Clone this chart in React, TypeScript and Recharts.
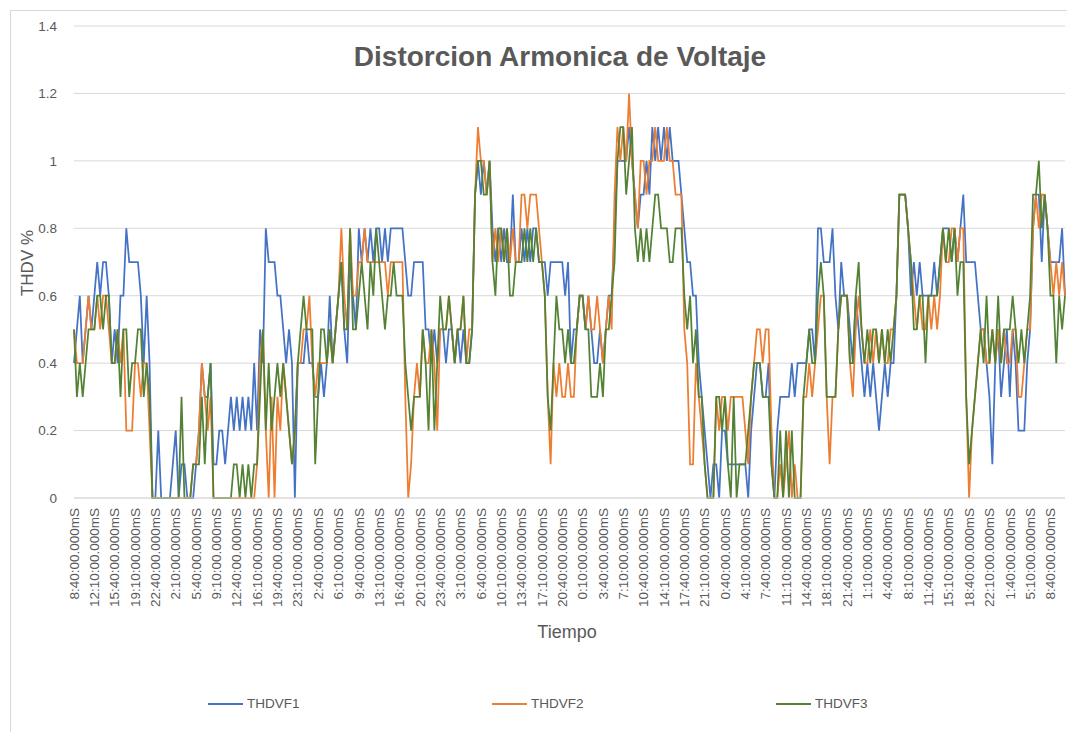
import React from "react";
import { CartesianGrid, Line, LineChart, XAxis, YAxis } from "recharts";

// tick labels shown every 7 samples (one sample every 30 min)
const TICK_LABELS = [
  "8:40:00.000mS", "12:10:00.000mS", "15:40:00.000mS", "19:10:00.000mS", "22:40:00.000mS",
  "2:10:00.000mS", "5:40:00.000mS", "9:10:00.000mS", "12:40:00.000mS", "16:10:00.000mS",
  "19:40:00.000mS", "23:10:00.000mS", "2:40:00.000mS", "6:10:00.000mS", "9:40:00.000mS",
  "13:10:00.000mS", "16:40:00.000mS", "20:10:00.000mS", "23:40:00.000mS", "3:10:00.000mS",
  "6:40:00.000mS", "10:10:00.000mS", "13:40:00.000mS", "17:10:00.000mS", "20:40:00.000mS",
  "0:10:00.000mS", "3:40:00.000mS", "7:10:00.000mS", "10:40:00.000mS", "14:10:00.000mS",
  "17:40:00.000mS", "21:10:00.000mS", "0:40:00.000mS", "4:10:00.000mS", "7:40:00.000mS",
  "11:10:00.000mS", "14:40:00.000mS", "18:10:00.000mS", "21:40:00.000mS", "1:10:00.000mS",
  "4:40:00.000mS", "8:10:00.000mS", "11:40:00.000mS", "15:10:00.000mS", "18:40:00.000mS",
  "22:10:00.000mS", "1:40:00.000mS", "5:10:00.000mS", "8:40:00.000mS",
];
const TICK_STEP = 7;

const Y_TICKS = [0, 0.2, 0.4, 0.6, 0.8, 1, 1.2, 1.4];

// THDV values in tenths of a percent
const THDVF1 = [
  4, 5, 6, 4, 5, 6, 5, 6, 7, 6, 7, 7, 6, 4, 5, 4, 6, 6, 8, 7, 7, 7, 7, 6, 4, 6, 4, 0,
  0, 2, 0, 0, 0, 0, 1, 2, 0, 1, 1, 0, 0, 0, 1, 2, 4, 3, 3, 4, 1, 1, 2, 2, 1, 2, 3, 2,
  3, 2, 3, 2, 3, 2, 4, 2, 5, 4, 8, 7, 7, 7, 6, 6, 5, 4, 5, 4, 0, 4, 4, 4, 5, 4, 4, 3,
  3, 4, 3, 4, 6, 4, 5, 6, 7, 5, 4, 7, 6, 5, 8, 7, 8, 7, 8, 7, 8, 8, 7, 8, 7, 8, 8, 8,
  8, 8, 7, 6, 6, 7, 7, 7, 7, 5, 5, 4, 5, 4, 5, 5, 4, 5, 5, 4, 5, 4, 5, 4, 4, 5, 9, 10,
  9, 10, 9, 10, 8, 7, 8, 7, 8, 7, 7, 9, 7, 7, 8, 7, 8, 7, 8, 8, 7, 7, 7, 6, 7, 7, 7, 7,
  7, 6, 7, 4, 5, 5, 6, 6, 5, 6, 5, 4, 4, 5, 4, 5, 6, 6, 8, 10, 10, 10, 10, 11, 10, 9, 8, 9,
  9, 10, 9, 11, 10, 11, 10, 11, 10, 11, 10, 10, 10, 9, 8, 7, 7, 6, 6, 4, 3, 2, 1, 0, 1, 1, 0, 2,
  2, 1, 1, 1, 1, 1, 1, 1, 0, 2, 3, 4, 4, 3, 3, 4, 1, 0, 2, 3, 3, 3, 3, 4, 3, 4, 4, 4,
  4, 5, 5, 4, 8, 8, 7, 7, 7, 8, 6, 5, 7, 6, 6, 5, 4, 6, 5, 4, 3, 4, 3, 4, 3, 2, 3, 4,
  3, 4, 4, 6, 9, 9, 9, 8, 6, 7, 6, 7, 6, 6, 6, 6, 7, 6, 7, 8, 8, 8, 7, 8, 7, 8, 9, 7,
  7, 7, 7, 6, 5, 5, 4, 3, 1, 4, 5, 3, 4, 5, 3, 5, 4, 2, 2, 2, 4, 5, 8, 9, 9, 7, 9, 8,
  7, 7, 7, 7, 8, 6,
];

const THDVF2 = [
  5, 4, 4, 4, 5, 6, 5, 5, 6, 5, 6, 6, 5, 4, 4, 5, 4, 5, 2, 2, 2, 4, 4, 3, 4, 4, 2, 0,
  0, 0, 0, 0, 0, 0, 0, 0, 0, 0, 0, 0, 0, 1, 1, 2, 4, 3, 2, 3, 0, 0, 0, 0, 0, 0, 0, 0,
  0, 0, 0, 0, 0, 0, 0, 1, 4, 5, 2, 0, 3, 0, 3, 2, 4, 3, 2, 1, 2, 4, 4, 5, 5, 6, 4, 3,
  4, 4, 4, 4, 5, 4, 5, 6, 8, 6, 5, 8, 6, 6, 7, 7, 8, 7, 7, 7, 7, 7, 7, 7, 6, 7, 7, 7,
  7, 7, 3, 0, 1, 3, 4, 3, 5, 4, 4, 5, 4, 2, 5, 5, 5, 6, 5, 4, 5, 5, 6, 4, 5, 5, 9, 11,
  10, 10, 9, 10, 7, 8, 7, 8, 7, 8, 7, 8, 7, 7, 9, 9, 8, 9, 9, 9, 8, 7, 6, 3, 1, 4, 3, 4,
  3, 3, 4, 3, 3, 5, 6, 6, 5, 6, 5, 5, 6, 5, 4, 5, 6, 5, 9, 11, 10, 11, 10, 12, 10, 9, 8, 10,
  10, 9, 10, 10, 11, 10, 10, 10, 11, 10, 10, 9, 9, 9, 5, 4, 1, 1, 4, 3, 2, 1, 0, 0, 0, 3, 2, 3,
  3, 2, 3, 3, 3, 3, 3, 2, 1, 3, 4, 5, 5, 4, 5, 5, 2, 0, 0, 1, 0, 1, 2, 0, 1, 0, 0, 3,
  3, 4, 3, 4, 5, 6, 6, 3, 1, 3, 3, 5, 6, 6, 6, 4, 3, 5, 6, 5, 4, 4, 5, 4, 5, 4, 5, 4,
  4, 5, 5, 6, 9, 9, 9, 8, 7, 6, 5, 6, 5, 5, 6, 5, 6, 5, 6, 8, 7, 7, 8, 8, 7, 8, 8, 3,
  0, 2, 3, 4, 5, 5, 4, 4, 5, 4, 5, 4, 5, 4, 4, 5, 5, 3, 3, 4, 5, 5, 8, 9, 8, 9, 9, 8,
  7, 6, 7, 6, 7, 6,
];

const THDVF3 = [
  5, 3, 4, 3, 4, 5, 5, 5, 6, 6, 5, 6, 6, 4, 4, 5, 3, 5, 5, 3, 4, 4, 5, 5, 3, 4, 3, 0,
  0, 0, 0, 0, 0, 0, 0, 0, 0, 3, 0, 0, 0, 1, 1, 1, 3, 1, 3, 4, 0, 0, 0, 0, 0, 0, 0, 1,
  1, 0, 1, 0, 1, 0, 1, 1, 3, 5, 2, 4, 2, 3, 4, 3, 4, 3, 2, 1, 2, 4, 5, 6, 5, 5, 5, 1,
  3, 5, 5, 4, 5, 4, 5, 6, 7, 5, 5, 8, 5, 5, 6, 7, 6, 5, 7, 6, 8, 7, 6, 5, 6, 6, 7, 6,
  6, 6, 4, 3, 2, 3, 3, 3, 5, 4, 2, 5, 2, 4, 6, 5, 5, 6, 5, 4, 5, 5, 6, 4, 4, 5, 9, 10,
  10, 9, 9, 10, 7, 6, 8, 8, 7, 8, 6, 6, 7, 7, 7, 8, 7, 8, 7, 8, 7, 7, 6, 3, 2, 4, 6, 5,
  5, 4, 5, 4, 4, 5, 6, 6, 5, 5, 3, 3, 3, 4, 3, 5, 5, 6, 7, 10, 11, 11, 9, 10, 11, 8, 7, 8,
  7, 8, 7, 8, 9, 9, 8, 8, 8, 7, 7, 8, 8, 8, 6, 5, 6, 4, 5, 3, 3, 1, 0, 0, 0, 3, 3, 2,
  3, 1, 0, 3, 0, 1, 1, 1, 2, 3, 4, 4, 4, 3, 3, 3, 1, 0, 0, 2, 0, 2, 0, 2, 0, 0, 0, 3,
  4, 5, 4, 4, 6, 7, 6, 3, 3, 3, 3, 5, 6, 6, 6, 4, 4, 6, 7, 5, 4, 5, 4, 5, 5, 4, 5, 4,
  5, 4, 5, 6, 9, 9, 9, 8, 7, 5, 5, 6, 6, 4, 6, 6, 6, 6, 7, 8, 7, 8, 7, 8, 6, 7, 7, 3,
  1, 2, 3, 4, 5, 4, 6, 4, 5, 4, 6, 4, 5, 5, 5, 6, 5, 4, 5, 4, 5, 6, 9, 9, 10, 8, 9, 8,
  6, 6, 4, 6, 5, 6,
];

const SERIES = [
  { key: "THDVF1", color: "#4472C4" },
  { key: "THDVF2", color: "#ED7D31" },
  { key: "THDVF3", color: "#548235" },
];

const FONT = "'Liberation Sans', Arial, sans-serif";
const TEXT = "#595959";

const data = THDVF1.map((v, i) => ({
  i,
  THDVF1: v / 10,
  THDVF2: THDVF2[i] / 10,
  THDVF3: THDVF3[i] / 10,
}));

const XTick = ({ x, y, payload }: any) => (
  <text
    x={x}
    y={y + 2}
    transform={`rotate(-90 ${x} ${y + 2})`}
    textAnchor="end"
    dy="0.35em"
    fill={TEXT}
    fontSize={13.5}
    fontFamily={FONT}
  >
    {TICK_LABELS[payload.value / TICK_STEP]}
  </text>
);

const legendPos = [208, 492, 776];

export default function App() {
  return (
    <div style={{ position: "absolute", left: 0, top: 0, width: 1067, height: 732, background: "#fff", overflow: "hidden", fontFamily: FONT }}>
      <div style={{ position: "absolute", left: 10, top: 10, width: 1070, height: 740, border: "1px solid #D9D9D9" }} />
      <LineChart width={1067} height={732} data={data} margin={{ top: 26, right: 2, bottom: 0, left: 0 }} style={{ position: "absolute", left: 0, top: 0 }}>
        <CartesianGrid vertical={false} stroke="#D9D9D9" strokeWidth={1} />
        <XAxis
          dataKey="i"
          type="number"
          domain={[0, THDVF1.length - 1]}
          ticks={TICK_LABELS.map((_, k) => k * TICK_STEP)}
          interval={0}
          tick={<XTick />}
          tickLine={false}
          axisLine={{ stroke: "#D9D9D9" }}
          height={234}
        />
        <YAxis
          domain={[0, 1.4]}
          ticks={Y_TICKS}
          tickFormatter={(v: number) => String(v)}
          tick={{ fill: TEXT, fontSize: 13.5, fontFamily: FONT }}
          tickLine={false}
          axisLine={false}
          tickMargin={11}
          width={74}
        />
        {SERIES.map((s) => (
          <Line
            key={s.key}
            type="linear"
            dataKey={s.key}
            stroke={s.color}
            strokeWidth={1.75}
            dot={false}
            isAnimationActive={false}
          />
        ))}
      </LineChart>

      <div style={{ position: "absolute", left: 0, width: 1120, top: 41, textAlign: "center", fontSize: 28, fontWeight: "bold", color: TEXT }}>
        Distorcion Armonica de Voltaje
      </div>
      <div style={{ position: "absolute", left: 28, top: 263, transform: "translate(-50%, -50%) rotate(-90deg)", fontSize: 17, color: TEXT, whiteSpace: "nowrap" }}>
        THDV %
      </div>
      <div style={{ position: "absolute", left: 0, width: 1134, top: 622, textAlign: "center", fontSize: 18, color: TEXT }}>
        Tiempo
      </div>
      {SERIES.map((s, k) => (
        <div key={s.key} style={{ position: "absolute", left: legendPos[k], top: 696, display: "flex", alignItems: "center", fontSize: 13.5, color: TEXT }}>
          <span style={{ display: "inline-block", width: 35, height: 2, background: s.color, marginRight: 4 }} />
          {s.key}
        </div>
      ))}
    </div>
  );
}
